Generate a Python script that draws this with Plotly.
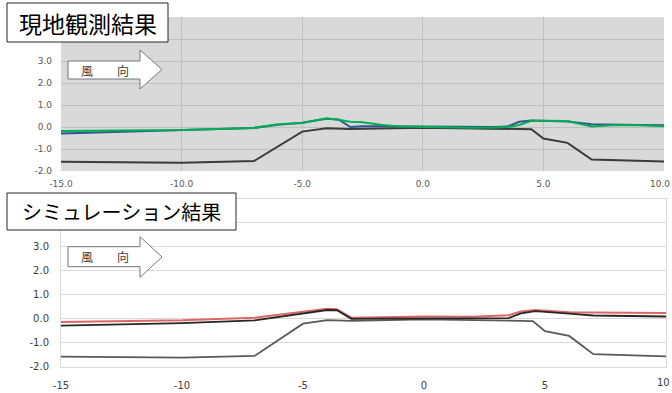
import plotly.graph_objects as go

W, H = 672, 393

# ---------------- data ----------------
x_ticks = [-15, -10, -5, 0, 5, 10]
top_x_ticktext = ["-15.0", "-10.0", "-5.0", "0.0", "5.0", "10.0"]
bottom_x_ticktext = ["-15", "-10", "-5", "0", "5", "10"]
y_ticks = [-2, -1, 0, 1, 2, 3, 4, 5]
y_ticktext = ["-2.0", "-1.0", "0.0", "1.0", "2.0", "3.0", "", ""]

terrain_x = [-15, -10, -7, -5, -4, -3, 0, 3, 4.5, 5, 6, 7, 10]
terrain_y = [-1.58, -1.62, -1.55, -0.21, -0.06, -0.09, -0.03, -0.08, -0.1, -0.52, -0.72, -1.48, -1.57]

obs_x = [-15, -10, -7, -6, -5, -4, -3.5, -3, -2.5, -1.75, -1, 0, 1, 2, 3, 3.5, 4, 4.5, 5, 6, 7, 8, 9, 10]
obs_blue = [-0.29, -0.15, -0.04, 0.1, 0.19, 0.38, 0.34, 0.0, 0.03, 0.03, 0.02, 0.01, 0.0, 0.0, 0.0, 0.02,
            0.24, 0.3, 0.29, 0.25, 0.13, 0.1, 0.09, 0.08]
obs_green = [-0.18, -0.14, -0.04, 0.12, 0.18, 0.4, 0.33, 0.24, 0.22, 0.1, 0.02, 0.0, -0.02, -0.03, -0.02, 0.0,
             0.09, 0.28, 0.28, 0.27, 0.02, 0.09, 0.08, 0.03]

sim_x = [-15, -10, -7, -5, -4, -3.6, -3, 0, 2, 3.5, 4, 4.6, 6, 7, 10]
sim_red = [-0.14, -0.07, 0.04, 0.28, 0.41, 0.39, 0.04, 0.09, 0.08, 0.14, 0.3, 0.36, 0.27, 0.26, 0.23]
sim_black = [-0.29, -0.19, -0.07, 0.2, 0.36, 0.35, -0.01, 0.01, 0.01, 0.02, 0.22, 0.31, 0.21, 0.13, 0.09]

title_top = "現地観測結果"
title_bottom = "シミュレーション結果"
wind_label = "風　　向"

# ---------------- helpers ----------------
def px(x):
    return x / W

def py(y):
    return 1 - y / H

fig = go.Figure()

# top panel traces
fig.add_trace(go.Scatter(x=terrain_x, y=terrain_y, mode="lines", line=dict(color="#3a3a3a", width=2),
                         xaxis="x", yaxis="y", showlegend=False))
fig.add_trace(go.Scatter(x=obs_x, y=obs_blue, mode="lines", line=dict(color="#2f5597", width=2),
                         xaxis="x", yaxis="y", showlegend=False))
fig.add_trace(go.Scatter(x=obs_x, y=obs_green, mode="lines", line=dict(color="#00b050", width=2),
                         xaxis="x", yaxis="y", showlegend=False))

# bottom panel traces
fig.add_trace(go.Scatter(x=terrain_x, y=terrain_y, mode="lines", line=dict(color="#595959", width=1.8),
                         xaxis="x2", yaxis="y2", showlegend=False))
fig.add_trace(go.Scatter(x=sim_x, y=sim_red, mode="lines", line=dict(color="#e06666", width=2),
                         xaxis="x2", yaxis="y2", showlegend=False))
fig.add_trace(go.Scatter(x=sim_x, y=sim_black, mode="lines", line=dict(color="#262626", width=1.8),
                         xaxis="x2", yaxis="y2", showlegend=False))

top_font = dict(family="DejaVu Sans", size=9, color="#595959")
bot_font = dict(family="DejaVu Sans", size=10, color="#404040")

# last x tick label is placed right-aligned at the page edge (it would overflow otherwise)
top_x_axis_text = top_x_ticktext[:-1] + [""]
bottom_x_axis_text = bottom_x_ticktext[:-1] + [""]

fig.update_layout(
    width=W, height=H,
    margin=dict(l=0, r=0, t=0, b=0),
    paper_bgcolor="white",
    plot_bgcolor="white",
    xaxis=dict(domain=[px(61), px(664)], range=[-15, 10], tickvals=x_ticks, ticktext=top_x_axis_text,
               showgrid=True, gridcolor="#bfbfbf", gridwidth=1, zeroline=False, showline=False,
               tickfont=top_font, ticks="", ticklabelstandoff=6, anchor="y", fixedrange=True,
               automargin=False),
    yaxis=dict(domain=[py(171), py(17)], range=[-2, 5], tickvals=y_ticks, ticktext=y_ticktext,
               showgrid=True, gridcolor="#bfbfbf", gridwidth=1, zeroline=False, showline=False,
               tickfont=top_font, ticks="", ticklabelstandoff=8, anchor="x", fixedrange=True,
               automargin=False),
    xaxis2=dict(domain=[px(61), px(666)], range=[-15, 10], tickvals=x_ticks, ticktext=bottom_x_axis_text,
                showgrid=False, zeroline=False, showline=True, mirror=True, linecolor="#d9d9d9",
                tickfont=bot_font, ticks="", ticklabelstandoff=9, anchor="y2", fixedrange=True,
                automargin=False),
    yaxis2=dict(domain=[py(366.7), py(198.5)], range=[-2, 5], tickvals=y_ticks, ticktext=y_ticktext,
                showgrid=True, gridcolor="#d9d9d9", gridwidth=1, zeroline=False, showline=True, mirror=True,
                linecolor="#d9d9d9", tickfont=bot_font, ticks="", ticklabelstandoff=9, anchor="x2",
                fixedrange=True, automargin=False),
)

shapes = []
# gray background of top plot area
shapes.append(dict(type="rect", xref="x domain", yref="y domain", x0=0, x1=1, y0=0, y1=1,
                   fillcolor="#d9d9d9", line=dict(width=0), layer="below"))


def arrow_path(x0, x1, xtip, yt, yb, yht, yhb, ytip):
    pts = [(x0, yt), (x1, yt), (x1, yht), (xtip, ytip), (x1, yhb), (x1, yb), (x0, yb)]
    s = "M " + " L ".join(f"{px(a):.5f},{py(b):.5f}" for a, b in pts) + " Z"
    return s

# wind arrows
shapes.append(dict(type="path", xref="paper", yref="paper",
                   path=arrow_path(68, 140, 162, 61, 79, 50, 89, 69.5),
                   fillcolor="white", line=dict(color="#767676", width=1)))
shapes.append(dict(type="path", xref="paper", yref="paper",
                   path=arrow_path(68, 140, 162, 246.7, 266.7, 236.7, 277.3, 257),
                   fillcolor="white", line=dict(color="#767676", width=1)))

# title boxes
shapes.append(dict(type="rect", xref="paper", yref="paper", x0=px(7), x1=px(168), y0=py(42), y1=py(3),
                   fillcolor="white", line=dict(color="#262626", width=1)))
shapes.append(dict(type="rect", xref="paper", yref="paper", x0=px(7), x1=px(236), y0=py(230), y1=py(193),
                   fillcolor="white", line=dict(color="#262626", width=1)))

fig.update_layout(shapes=shapes)

jp = "Noto Sans CJK JP"
annotations = [
    dict(text=title_top, x=px(87.5), y=py(22.5), xref="paper", yref="paper", showarrow=False,
         xanchor="center", yanchor="middle", font=dict(family=jp, size=23, color="black")),
    dict(text=title_bottom, x=px(121.5), y=py(211.5), xref="paper", yref="paper", showarrow=False,
         xanchor="center", yanchor="middle", font=dict(family=jp, size=20, color="black")),
    dict(text=wind_label, x=px(105), y=py(70), xref="paper", yref="paper", showarrow=False,
         xanchor="center", yanchor="middle", font=dict(family=jp, size=12, color="#404040")),
    dict(text=wind_label, x=px(105), y=py(256.7), xref="paper", yref="paper", showarrow=False,
         xanchor="center", yanchor="middle", font=dict(family=jp, size=12, color="#404040")),
    # last x tick labels, right-aligned at the page edge
    dict(text=top_x_ticktext[-1], x=1, y=py(183.5), xref="paper", yref="paper", showarrow=False,
         xanchor="right", yanchor="middle", font=top_font, borderpad=0, xshift=-1),
    dict(text=bottom_x_ticktext[-1], x=1, y=py(382.5), xref="paper", yref="paper", showarrow=False,
         xanchor="right", yanchor="middle", font=bot_font, borderpad=0, xshift=-1),
]
fig.update_layout(annotations=annotations)

fig.write_html("out.html")
